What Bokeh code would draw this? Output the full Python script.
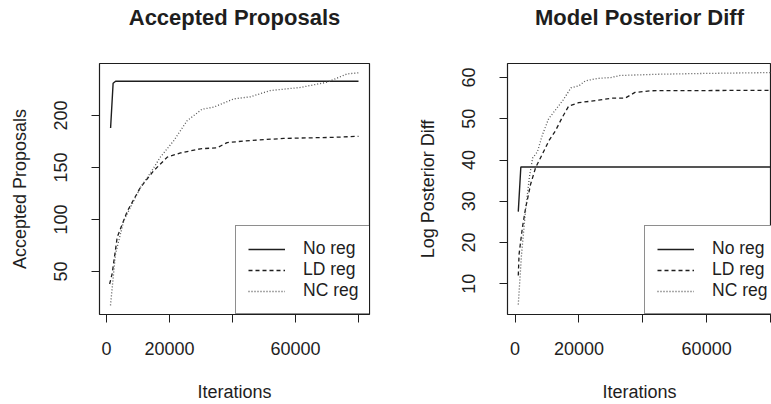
from bokeh.plotting import figure
from bokeh.layouts import row
from bokeh.models import Legend, LegendItem, FixedTicker, Range1d, Title
from bokeh.embed import file_html
from bokeh.resources import INLINE

# ---- data: Accepted Proposals ----
acc_noreg_x = [1300, 2100, 2900, 80000]
acc_noreg_y = [188, 231, 233, 233]
acc_ld_x = [1000, 1800, 3400, 6600, 10800, 15000, 19300, 23500, 29800, 35100, 38300, 45700, 56300, 72000, 80000]
acc_ld_y = [38, 48, 83, 108, 131, 147, 160, 164, 168, 169, 174, 176, 178, 179, 180]
acc_nc_x = [1270, 2860, 5500, 10800, 14000, 17100, 21400, 25600, 30300, 34000, 40400, 45700, 52000, 61600, 70000, 76400, 80000]
acc_nc_y = [17.5, 67, 99, 131, 145, 160, 176, 195, 206, 208, 216, 218, 224, 227, 232, 240, 241]

# ---- data: Model Posterior Diff ----
post_noreg_x = [1000, 1800, 80000]
post_noreg_y = [27.5, 38.3, 38.3]
post_ld_x = [1000, 1250, 2300, 3330, 4880, 6440, 8520, 10600, 12650, 14740, 16800, 19900, 26130, 30300, 34450, 37550, 42750, 80000]
post_ld_y = [12, 17.2, 23.7, 28.5, 34.2, 38.2, 41.4, 44.7, 47.1, 50.3, 53.1, 53.9, 54.5, 55.0, 55.0, 56.4, 56.8, 56.9]
post_nc_x = [1000, 2000, 3300, 4500, 5500, 7000, 8500, 10500, 12500, 15000, 17500, 20000, 22000, 26000, 30000, 33000, 45000, 60000, 80000]
post_nc_y = [5, 17, 28, 36, 40.5, 42, 46, 50, 52, 54.5, 57.5, 58, 59.2, 59.8, 60, 60.5, 60.8, 61, 61.2]

series_labels = ["No reg", "LD reg", "NC reg"]
x_ticks = [0, 20000, 40000, 60000, 80000]
x_tick_labels = {0: "0", 20000: "20000", 40000: "", 60000: "60000", 80000: ""}
acc_y_ticks = [50, 100, 150, 200]
post_y_ticks = [10, 20, 30, 40, 50, 60]

FONT = "Liberation Sans"
INK = "#1e1e1e"
TOP, BOTTOM, HEIGHT = 63, 90, 404


def make_panel(title, ylabel, xr, yr, yticks, xs, ys, width, bl, br, legend_x):
    p = figure(width=width, height=HEIGHT, output_backend="svg", toolbar_location=None,
               x_range=Range1d(*xr), y_range=Range1d(*yr),
               min_border_left=bl, min_border_right=br, min_border_top=TOP, min_border_bottom=BOTTOM)
    p.xgrid.visible = False
    p.ygrid.visible = False
    p.outline_line_color = INK
    p.outline_line_width = 1.2
    p.background_fill_color = "white"
    p.border_fill_color = "white"

    # spacer between frame and title, then the title itself
    p.add_layout(Title(text=" ", text_font_size="2px", standoff=30), "above")
    p.add_layout(Title(text=title, align="center", text_font=FONT, text_font_size="22px",
                       text_font_style="bold", text_color=INK, standoff=0), "above")

    for ax in (p.xaxis[0], p.yaxis[0]):
        ax.axis_line_color = None
        ax.major_tick_in = 0
        ax.major_tick_out = 8
        ax.major_tick_line_color = INK
        ax.minor_tick_line_color = None
        ax.major_label_text_font = FONT
        ax.major_label_text_font_size = "18px"
        ax.major_label_text_color = INK
        ax.axis_label_text_font = FONT
        ax.axis_label_text_font_size = "18px"
        ax.axis_label_text_font_style = "normal"
        ax.axis_label_text_color = INK

    p.xaxis.ticker = FixedTicker(ticks=x_ticks)
    p.xaxis.major_label_overrides = x_tick_labels
    p.xaxis.axis_label = "Iterations"
    p.xaxis.major_label_standoff = 19
    p.xaxis.axis_label_standoff = 24

    p.yaxis.ticker = FixedTicker(ticks=yticks)
    p.yaxis.major_label_orientation = "parallel"
    p.yaxis.axis_label = ylabel
    p.yaxis.major_label_standoff = 24
    p.yaxis.axis_label_standoff = 22

    styles = [dict(line_dash="solid", line_color=INK, line_width=1.4),
              dict(line_dash="4 3", line_color=INK, line_width=1.3),
              dict(line_dash="1 2", line_color="#555555", line_width=1.3)]
    items = []
    for (x, y), st, lab in zip(zip(xs, ys), styles, series_labels):
        r = p.line(x, y, **st)
        items.append(LegendItem(label=lab, renderers=[r]))

    leg = Legend(items=items, location=(legend_x, 0), margin=0, padding=12, spacing=0,
                 glyph_width=37, glyph_height=16, label_height=16, label_standoff=18,
                 label_text_font=FONT, label_text_font_size="17.5px", label_text_color=INK,
                 border_line_color=INK, border_line_width=1.2,
                 background_fill_color="white", background_fill_alpha=1.0)
    p.add_layout(leg)
    return p


p1 = make_panel("Accepted Proposals", "Accepted Proposals", (-2222, 83492), (8.7, 250), acc_y_ticks,
                [acc_noreg_x, acc_ld_x, acc_nc_x], [acc_noreg_y, acc_ld_y, acc_nc_y],
                385, 99, 16, 136)
p2 = make_panel("Model Posterior Diff", "Log Posterior Diff", (-2378, 80313), (2.57, 63.4), post_y_ticks,
                [post_noreg_x, post_ld_x, post_nc_x], [post_noreg_y, post_ld_y, post_nc_y],
                386, 122, 0, 137)

layout = row(p1, p2)
open("out.html", "w").write(file_html(layout, INLINE))
